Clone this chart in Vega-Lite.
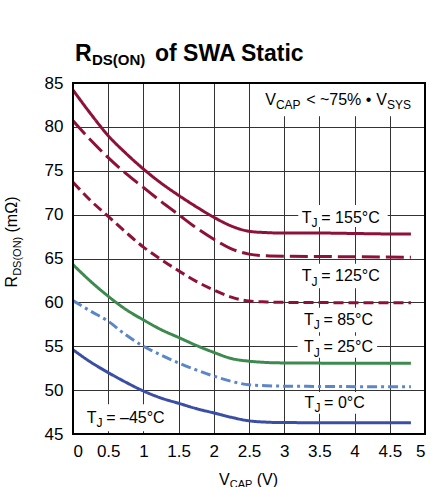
{
  "$schema": "https://vega.github.io/schema/vega-lite/v6.json",
  "width": 352,
  "height": 351,
  "autosize": {"type": "none"},
  "padding": {"left": 73, "top": 83, "right": 10, "bottom": 53},
  "background": "white",
  "config": {
    "view": {"stroke": null},
    "font": "Liberation Sans, Arial, sans-serif",
    "axis": {
      "grid": true, "gridColor": "#333333", "gridWidth": 1, "gridOpacity": 1,
      "domain": false, "ticks": false, "labelFontSize": 17, "labelColor": "#000000",
      "labelFont": "Liberation Sans, Arial, sans-serif"
    }
  },
  "resolve": {"axis": {"x": "independent", "y": "independent"}},
  "datasets": {
    "series": [
      {"s": "155", "v": 0, "r": 84.2}, {"s": "155", "v": 0.25, "r": 81.5}, {"s": "155", "v": 0.5, "r": 79.0}, {"s": "155", "v": 0.75, "r": 77.0}, {"s": "155", "v": 1, "r": 75.2}, {"s": "155", "v": 1.25, "r": 73.6}, {"s": "155", "v": 1.5, "r": 72.2}, {"s": "155", "v": 1.75, "r": 70.9}, {"s": "155", "v": 2, "r": 69.7}, {"s": "155", "v": 2.25, "r": 68.7}, {"s": "155", "v": 2.5, "r": 68.1}, {"s": "155", "v": 2.75, "r": 67.95}, {"s": "155", "v": 3, "r": 67.9}, {"s": "155", "v": 3.5, "r": 67.9}, {"s": "155", "v": 4, "r": 67.85}, {"s": "155", "v": 4.5, "r": 67.8}, {"s": "155", "v": 4.8, "r": 67.8},
      {"s": "125", "v": 0, "r": 80.7}, {"s": "125", "v": 0.25, "r": 78.5}, {"s": "125", "v": 0.5, "r": 76.5}, {"s": "125", "v": 0.75, "r": 74.7}, {"s": "125", "v": 1, "r": 73.1}, {"s": "125", "v": 1.25, "r": 71.5}, {"s": "125", "v": 1.5, "r": 70.0}, {"s": "125", "v": 1.75, "r": 68.5}, {"s": "125", "v": 2, "r": 67.2}, {"s": "125", "v": 2.25, "r": 66.1}, {"s": "125", "v": 2.5, "r": 65.5}, {"s": "125", "v": 2.75, "r": 65.3}, {"s": "125", "v": 3, "r": 65.25}, {"s": "125", "v": 4, "r": 65.2}, {"s": "125", "v": 4.8, "r": 65.15},
      {"s": "85", "v": 0, "r": 73.7}, {"s": "85", "v": 0.25, "r": 71.6}, {"s": "85", "v": 0.5, "r": 69.8}, {"s": "85", "v": 0.75, "r": 68.0}, {"s": "85", "v": 1, "r": 66.3}, {"s": "85", "v": 1.25, "r": 64.9}, {"s": "85", "v": 1.5, "r": 63.6}, {"s": "85", "v": 1.75, "r": 62.4}, {"s": "85", "v": 2, "r": 61.4}, {"s": "85", "v": 2.25, "r": 60.6}, {"s": "85", "v": 2.5, "r": 60.15}, {"s": "85", "v": 2.75, "r": 60.05}, {"s": "85", "v": 3, "r": 60.0}, {"s": "85", "v": 4.8, "r": 59.95},
      {"s": "25", "v": 0, "r": 64.3}, {"s": "25", "v": 0.25, "r": 62.4}, {"s": "25", "v": 0.5, "r": 60.7}, {"s": "25", "v": 0.75, "r": 59.2}, {"s": "25", "v": 1, "r": 58.0}, {"s": "25", "v": 1.25, "r": 56.9}, {"s": "25", "v": 1.5, "r": 56.0}, {"s": "25", "v": 1.75, "r": 55.1}, {"s": "25", "v": 2, "r": 54.3}, {"s": "25", "v": 2.25, "r": 53.6}, {"s": "25", "v": 2.5, "r": 53.3}, {"s": "25", "v": 2.75, "r": 53.15}, {"s": "25", "v": 3, "r": 53.1}, {"s": "25", "v": 4.8, "r": 53.05},
      {"s": "0", "v": 0, "r": 60.2}, {"s": "0", "v": 0.25, "r": 59.0}, {"s": "0", "v": 0.5, "r": 57.85}, {"s": "0", "v": 0.75, "r": 56.3}, {"s": "0", "v": 1, "r": 55.0}, {"s": "0", "v": 1.25, "r": 54.0}, {"s": "0", "v": 1.5, "r": 53.1}, {"s": "0", "v": 1.75, "r": 52.3}, {"s": "0", "v": 2, "r": 51.6}, {"s": "0", "v": 2.25, "r": 51.0}, {"s": "0", "v": 2.5, "r": 50.6}, {"s": "0", "v": 2.75, "r": 50.5}, {"s": "0", "v": 3, "r": 50.45}, {"s": "0", "v": 4.8, "r": 50.38},
      {"s": "-45", "v": 0, "r": 54.6}, {"s": "-45", "v": 0.25, "r": 53.2}, {"s": "-45", "v": 0.5, "r": 52.0}, {"s": "-45", "v": 0.75, "r": 50.9}, {"s": "-45", "v": 1, "r": 49.9}, {"s": "-45", "v": 1.25, "r": 49.1}, {"s": "-45", "v": 1.5, "r": 48.5}, {"s": "-45", "v": 1.75, "r": 47.9}, {"s": "-45", "v": 2, "r": 47.4}, {"s": "-45", "v": 2.25, "r": 46.9}, {"s": "-45", "v": 2.5, "r": 46.5}, {"s": "-45", "v": 2.75, "r": 46.35}, {"s": "-45", "v": 3, "r": 46.3}, {"s": "-45", "v": 4.8, "r": 46.28}
    ],
    "labels": [
      {"s": "155", "x": 3.25, "y": 69.05, "rest": "= 155°C", "x0": 3.2, "x1": 4.47, "y0": 68.6, "y1": 71.1},
      {"s": "125", "x": 3.25, "y": 62.4, "rest": "= 125°C", "x0": 3.2, "x1": 4.47, "y0": 61.6, "y1": 64.4},
      {"s": "85", "x": 3.28, "y": 57.47, "rest": "= 85°C", "x0": 3.2, "x1": 4.33, "y0": 56.6, "y1": 59.4},
      {"s": "25", "x": 3.28, "y": 54.32, "rest": "= 25°C", "x0": 3.19, "x1": 4.32, "y0": 53.7, "y1": 56.2},
      {"s": "0", "x": 3.29, "y": 48.0, "rest": "= 0°C", "x0": 3.2, "x1": 4.25, "y0": 47.3, "y1": 49.8},
      {"s": "-45", "x": 0.195, "y": 46.28, "rest": "= –45°C", "x0": 0.05, "x1": 1.45, "y0": 45.3, "y1": 48.4}
    ],
    "note": [
      {"x": 2.73, "y": 82.53, "x0": 2.68, "x1": 4.97, "y0": 81.2, "y1": 84.9}
    ],
    "one": [{}]
  },
  "layer": [
    {
      "data": {"name": "labels"},
      "mark": {"type": "rect", "fill": "white", "stroke": null},
      "encoding": {
        "x": {"field": "x0", "type": "quantitative", "scale": {"domain": [0, 5], "nice": false, "zero": false}, "axis": null},
        "x2": {"field": "x1"},
        "y": {"field": "y0", "type": "quantitative", "scale": {"domain": [45, 85], "nice": false, "zero": false}, "axis": null},
        "y2": {"field": "y1"}
      }
    },
    {
      "data": {"name": "note"},
      "mark": {"type": "rect", "fill": "white", "stroke": null},
      "encoding": {
        "x": {"field": "x0", "type": "quantitative", "scale": {"domain": [0, 5], "nice": false, "zero": false}, "axis": null},
        "x2": {"field": "x1"},
        "y": {"field": "y0", "type": "quantitative", "scale": {"domain": [45, 85], "nice": false, "zero": false}, "axis": null},
        "y2": {"field": "y1"}
      }
    },
    {
      "data": {"name": "series"},
      "mark": {"type": "line", "strokeWidth": 3, "interpolate": "monotone"},
      "encoding": {
        "x": {"field": "v", "type": "quantitative", "scale": {"domain": [0, 5], "nice": false, "zero": false},
              "axis": {"orient": "bottom", "grid": true, "values": [0, 0.5, 1, 1.5, 2, 2.5, 3, 3.5, 4, 4.5, 5], "format": "~g", "title": null, "labelPadding": 9, "zindex": 0}},
        "y": {"field": "r", "type": "quantitative", "scale": {"domain": [45, 85], "nice": false, "zero": false},
              "axis": {"orient": "left", "grid": true, "values": [45, 50, 55, 60, 65, 70, 75, 80, 85], "title": null, "labelPadding": 10, "zindex": 0}},
        "color": {"field": "s", "type": "nominal", "legend": null,
                  "scale": {"domain": ["155", "125", "85", "25", "0", "-45"], "range": ["#8e1138", "#8e1138", "#8e1138", "#3d8a4f", "#5b86c9", "#3a4ea6"]}},
        "strokeDash": {"field": "s", "type": "nominal", "legend": null,
                  "scale": {"domain": ["155", "125", "85", "25", "0", "-45"], "range": [[1, 0], [18, 6], [10, 5], [1, 0], [10, 4, 3, 4], [1, 0]]}}
      }
    },
    {
      "data": {"name": "labels"},
      "mark": {"type": "text", "text": "T", "fontSize": 16, "align": "left", "baseline": "alphabetic", "color": "#000"},
      "encoding": {
        "x": {"field": "x", "type": "quantitative", "scale": {"domain": [0, 5], "nice": false, "zero": false}, "axis": null},
        "y": {"field": "y", "type": "quantitative", "scale": {"domain": [45, 85], "nice": false, "zero": false}, "axis": null}
      }
    },
    {
      "data": {"name": "labels"},
      "mark": {"type": "text", "text": "J", "fontSize": 12, "align": "left", "baseline": "alphabetic", "dx": 9.8, "dy": 4.5, "color": "#000"},
      "encoding": {
        "x": {"field": "x", "type": "quantitative", "scale": {"domain": [0, 5], "nice": false, "zero": false}, "axis": null},
        "y": {"field": "y", "type": "quantitative", "scale": {"domain": [45, 85], "nice": false, "zero": false}, "axis": null}
      }
    },
    {
      "data": {"name": "labels"},
      "mark": {"type": "text", "fontSize": 16, "align": "left", "baseline": "alphabetic", "dx": 19.5, "color": "#000"},
      "encoding": {
        "x": {"field": "x", "type": "quantitative", "scale": {"domain": [0, 5], "nice": false, "zero": false}, "axis": null},
        "y": {"field": "y", "type": "quantitative", "scale": {"domain": [45, 85], "nice": false, "zero": false}, "axis": null},
        "text": {"field": "rest"}
      }
    },
    {
      "data": {"name": "note"},
      "mark": {"type": "text", "text": "V", "fontSize": 16, "align": "left", "baseline": "alphabetic", "color": "#000"},
      "encoding": {
        "x": {"field": "x", "type": "quantitative", "scale": {"domain": [0, 5], "nice": false, "zero": false}, "axis": null},
        "y": {"field": "y", "type": "quantitative", "scale": {"domain": [45, 85], "nice": false, "zero": false}, "axis": null}
      }
    },
    {
      "data": {"name": "note"},
      "mark": {"type": "text", "text": "CAP", "fontSize": 12, "align": "left", "baseline": "alphabetic", "dx": 10.7, "dy": 4.5, "color": "#000"},
      "encoding": {
        "x": {"field": "x", "type": "quantitative", "scale": {"domain": [0, 5], "nice": false, "zero": false}, "axis": null},
        "y": {"field": "y", "type": "quantitative", "scale": {"domain": [45, 85], "nice": false, "zero": false}, "axis": null}
      }
    },
    {
      "data": {"name": "note"},
      "mark": {"type": "text", "text": "< ~75% •", "fontSize": 16, "align": "left", "baseline": "alphabetic", "dx": 41, "color": "#000"},
      "encoding": {
        "x": {"field": "x", "type": "quantitative", "scale": {"domain": [0, 5], "nice": false, "zero": false}, "axis": null},
        "y": {"field": "y", "type": "quantitative", "scale": {"domain": [45, 85], "nice": false, "zero": false}, "axis": null}
      }
    },
    {
      "data": {"name": "note"},
      "mark": {"type": "text", "text": "V", "fontSize": 16, "align": "left", "baseline": "alphabetic", "dx": 111, "color": "#000"},
      "encoding": {
        "x": {"field": "x", "type": "quantitative", "scale": {"domain": [0, 5], "nice": false, "zero": false}, "axis": null},
        "y": {"field": "y", "type": "quantitative", "scale": {"domain": [45, 85], "nice": false, "zero": false}, "axis": null}
      }
    },
    {
      "data": {"name": "note"},
      "mark": {"type": "text", "text": "SYS", "fontSize": 12, "align": "left", "baseline": "alphabetic", "dx": 121.7, "dy": 4.5, "color": "#000"},
      "encoding": {
        "x": {"field": "x", "type": "quantitative", "scale": {"domain": [0, 5], "nice": false, "zero": false}, "axis": null},
        "y": {"field": "y", "type": "quantitative", "scale": {"domain": [45, 85], "nice": false, "zero": false}, "axis": null}
      }
    },
    {
      "data": {"name": "one"},
      "mark": {"type": "text", "text": "R", "fontSize": 23, "fontWeight": "bold", "align": "left", "baseline": "alphabetic", "dx": 2, "color": "#000"},
      "encoding": {
        "x": {"datum": 0, "type": "quantitative", "scale": {"domain": [0, 5], "nice": false, "zero": false}, "axis": null},
        "y": {"datum": 87.46, "type": "quantitative", "scale": {"domain": [45, 85], "nice": false, "zero": false}, "axis": null}
      }
    },
    {
      "data": {"name": "one"},
      "mark": {"type": "text", "text": "DS(ON)", "fontSize": 15, "fontWeight": "bold", "align": "left", "baseline": "alphabetic", "dx": 19, "dy": 4, "color": "#000"},
      "encoding": {
        "x": {"datum": 0, "type": "quantitative", "scale": {"domain": [0, 5], "nice": false, "zero": false}, "axis": null},
        "y": {"datum": 87.46, "type": "quantitative", "scale": {"domain": [45, 85], "nice": false, "zero": false}, "axis": null}
      }
    },
    {
      "data": {"name": "one"},
      "mark": {"type": "text", "text": "of SWA Static", "fontSize": 23, "fontWeight": "bold", "align": "left", "baseline": "alphabetic", "dx": 82, "color": "#000"},
      "encoding": {
        "x": {"datum": 0, "type": "quantitative", "scale": {"domain": [0, 5], "nice": false, "zero": false}, "axis": null},
        "y": {"datum": 87.46, "type": "quantitative", "scale": {"domain": [45, 85], "nice": false, "zero": false}, "axis": null}
      }
    },
    {
      "data": {"name": "one"},
      "mark": {"type": "text", "text": "R", "fontSize": 16, "align": "left", "baseline": "alphabetic", "angle": 270, "color": "#000"},
      "encoding": {
        "x": {"datum": -0.79, "type": "quantitative", "scale": {"domain": [0, 5], "nice": false, "zero": false}, "axis": null},
        "y": {"datum": 61.7, "type": "quantitative", "scale": {"domain": [45, 85], "nice": false, "zero": false}, "axis": null}
      }
    },
    {
      "data": {"name": "one"},
      "mark": {"type": "text", "text": "DS(ON)", "fontSize": 11, "align": "left", "baseline": "alphabetic", "angle": 270, "dx": 11.6, "dy": 3.5, "color": "#000"},
      "encoding": {
        "x": {"datum": -0.79, "type": "quantitative", "scale": {"domain": [0, 5], "nice": false, "zero": false}, "axis": null},
        "y": {"datum": 61.7, "type": "quantitative", "scale": {"domain": [45, 85], "nice": false, "zero": false}, "axis": null}
      }
    },
    {
      "data": {"name": "one"},
      "mark": {"type": "text", "text": "(mΩ)", "fontSize": 16, "align": "left", "baseline": "alphabetic", "angle": 270, "dx": 55, "color": "#000"},
      "encoding": {
        "x": {"datum": -0.79, "type": "quantitative", "scale": {"domain": [0, 5], "nice": false, "zero": false}, "axis": null},
        "y": {"datum": 61.7, "type": "quantitative", "scale": {"domain": [45, 85], "nice": false, "zero": false}, "axis": null}
      }
    },
    {
      "data": {"name": "one"},
      "mark": {"type": "text", "text": "V", "fontSize": 16, "align": "left", "baseline": "alphabetic", "color": "#000"},
      "encoding": {
        "x": {"datum": 2.074, "type": "quantitative", "scale": {"domain": [0, 5], "nice": false, "zero": false}, "axis": null},
        "y": {"datum": 39.2, "type": "quantitative", "scale": {"domain": [45, 85], "nice": false, "zero": false}, "axis": null}
      }
    },
    {
      "data": {"name": "one"},
      "mark": {"type": "text", "text": "CAP", "fontSize": 11, "align": "left", "baseline": "alphabetic", "dx": 10.7, "dy": 3.5, "color": "#000"},
      "encoding": {
        "x": {"datum": 2.074, "type": "quantitative", "scale": {"domain": [0, 5], "nice": false, "zero": false}, "axis": null},
        "y": {"datum": 39.2, "type": "quantitative", "scale": {"domain": [45, 85], "nice": false, "zero": false}, "axis": null}
      }
    },
    {
      "data": {"name": "one"},
      "mark": {"type": "text", "text": "(V)", "fontSize": 16, "align": "left", "baseline": "alphabetic", "dx": 37.7, "color": "#000"},
      "encoding": {
        "x": {"datum": 2.074, "type": "quantitative", "scale": {"domain": [0, 5], "nice": false, "zero": false}, "axis": null},
        "y": {"datum": 39.2, "type": "quantitative", "scale": {"domain": [45, 85], "nice": false, "zero": false}, "axis": null}
      }
    },
    {
      "data": {"name": "one"},
      "mark": {"type": "rect", "filled": false, "stroke": "#000", "strokeWidth": 2},
      "encoding": {
        "x": {"datum": 0, "type": "quantitative", "scale": {"domain": [0, 5], "nice": false, "zero": false}, "axis": null},
        "x2": {"datum": 5},
        "y": {"datum": 45, "type": "quantitative", "scale": {"domain": [45, 85], "nice": false, "zero": false}, "axis": null},
        "y2": {"datum": 85}
      }
    }
  ]
}
